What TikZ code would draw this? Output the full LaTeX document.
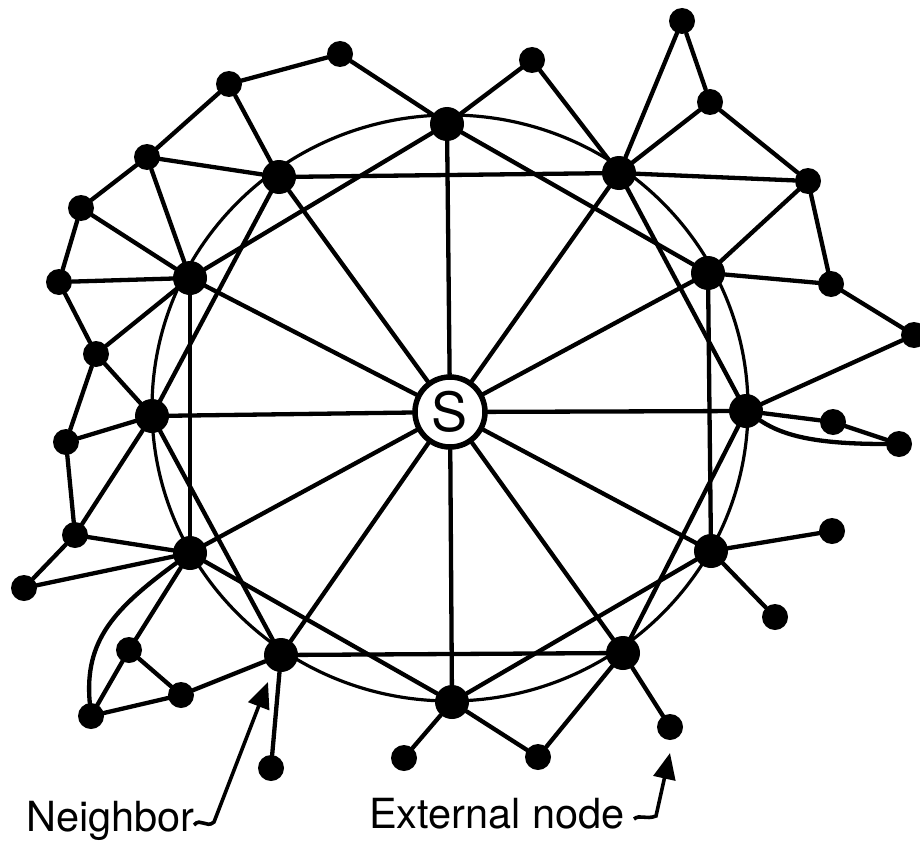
\documentclass[tikz,border=0pt]{standalone}
\usepackage{fontspec}
\setmainfont{TeX Gyre Heros}
\usetikzlibrary{arrows.meta}
\begin{document}
\begin{tikzpicture}[x=1pt,y=-1pt,
  edge/.style={line width=4.3pt, line cap=round},
  nb/.style={circle, fill=black, inner sep=0pt, minimum size=34pt},
  ext/.style={circle, fill=black, inner sep=0pt, minimum size=26pt},
  ring/.style={line width=3.2pt},
  src/.style={circle, draw=black, line width=5.5pt, fill=white, minimum size=70pt, inner sep=0pt, font=\fontsize{54}{54}\selectfont},
  lbl/.style={font=\fontsize{41.5}{48}\selectfont, inner sep=0pt, anchor=base west},
  pointer/.style={line width=3.6pt, -{Triangle[length=26pt,width=22pt]}}
]
\useasboundingbox (0,0) rectangle (920,840);
% ring through the neighbours
\draw[ring] (450,408) ellipse [x radius=298, y radius=293];
% source
\node[src] (s) at (450,412) {S};
% neighbours
\node[nb] (n0) at (447,124) {};
\node[nb] (n1) at (619,173) {};
\node[nb] (n2) at (708,273) {};
\node[nb] (n3) at (746,411) {};
\node[nb] (n4) at (711,551) {};
\node[nb] (n5) at (623,653) {};
\node[nb] (n6) at (452,702) {};
\node[nb] (n7) at (281,655) {};
\node[nb] (n8) at (190,553) {};
\node[nb] (n9) at (152,416) {};
\node[nb] (n10) at (190,278) {};
\node[nb] (n11) at (279,177) {};
% external nodes
\node[ext] (ea) at (229,84) {};
\node[ext] (eb) at (340,54) {};
\node[ext] (ec) at (147,157) {};
\node[ext] (ed) at (81,208) {};
\node[ext] (ee) at (59,282) {};
\node[ext] (ef) at (96,354) {};
\node[ext] (eg) at (532,60) {};
\node[ext] (eh) at (682,21) {};
\node[ext] (ei) at (710,102) {};
\node[ext] (ej) at (808,181) {};
\node[ext] (ek) at (831,284) {};
\node[ext] (el) at (914,335) {};
\node[ext] (em) at (833,422) {};
\node[ext] (en) at (899,444) {};
\node[ext] (eo) at (832,531) {};
\node[ext] (ep) at (775,617) {};
\node[ext] (eq) at (670,727) {};
\node[ext] (er) at (538,757) {};
\node[ext] (es) at (404,758) {};
\node[ext] (et) at (271,768) {};
\node[ext] (eu) at (181,695) {};
\node[ext] (ev) at (129,650) {};
\node[ext] (ew) at (91,716) {};
\node[ext] (ex) at (24,588) {};
\node[ext] (ey) at (75,535) {};
\node[ext] (ez) at (66,442) {};
% spokes
\foreach \i in {0,...,11} \draw[edge] (s) -- (n\i);
% chords skipping one neighbour
\foreach \a/\b in {0/2,1/3,2/4,3/5,4/6,5/7,6/8,7/9,8/10,9/11,10/0,11/1}
  \draw[edge] (n\a) -- (n\b);
% edges to external nodes
\foreach \a/\b in {ea/eb, eb/n0, ea/ec, ea/n11, ec/n11, ec/ed, ec/n10, ed/ee, ed/n10,
  ee/n10, ee/ef, ef/n10, ef/n9, ef/ez, ez/n9, ez/ey, ey/n9, ey/n8, ey/ex, ex/n8,
  n8/ev, ev/ew, ev/eu, eu/n7, ew/eu, n7/et, n6/es, n6/er, n5/er, n5/eq, n4/eo,
  n4/ep, n3/em, em/en, n3/el, ek/el, n2/ek, ej/ek, ej/n2, n1/ej, ei/ej, ei/n1,
  eh/ei, eh/n1, eg/n1, eg/n0}
  \draw[edge] (\a) -- (\b);
\draw[edge] (ew) .. controls (84,640) and (115,608) .. (n8);
\draw[edge] (n3) .. controls (785,437) and (820,444) .. (en);
% labels
\node[lbl] (nbl) at (26,831) {Neighbor};
\node[lbl] (exl) at (369,828) {External node};
\coordinate (nbA) at (194,825);
\coordinate (nbTip) at (268,682);
\coordinate (exA) at (634,819);
\coordinate (exTip) at (670,753);
\draw[pointer] (nbA) .. controls (201,817) and (206,829) .. (214,822) -- (nbTip);
\draw[pointer] (exA) .. controls (640,814) and (646,820) .. (656,816) -- (exTip);
\end{tikzpicture}
\end{document}
